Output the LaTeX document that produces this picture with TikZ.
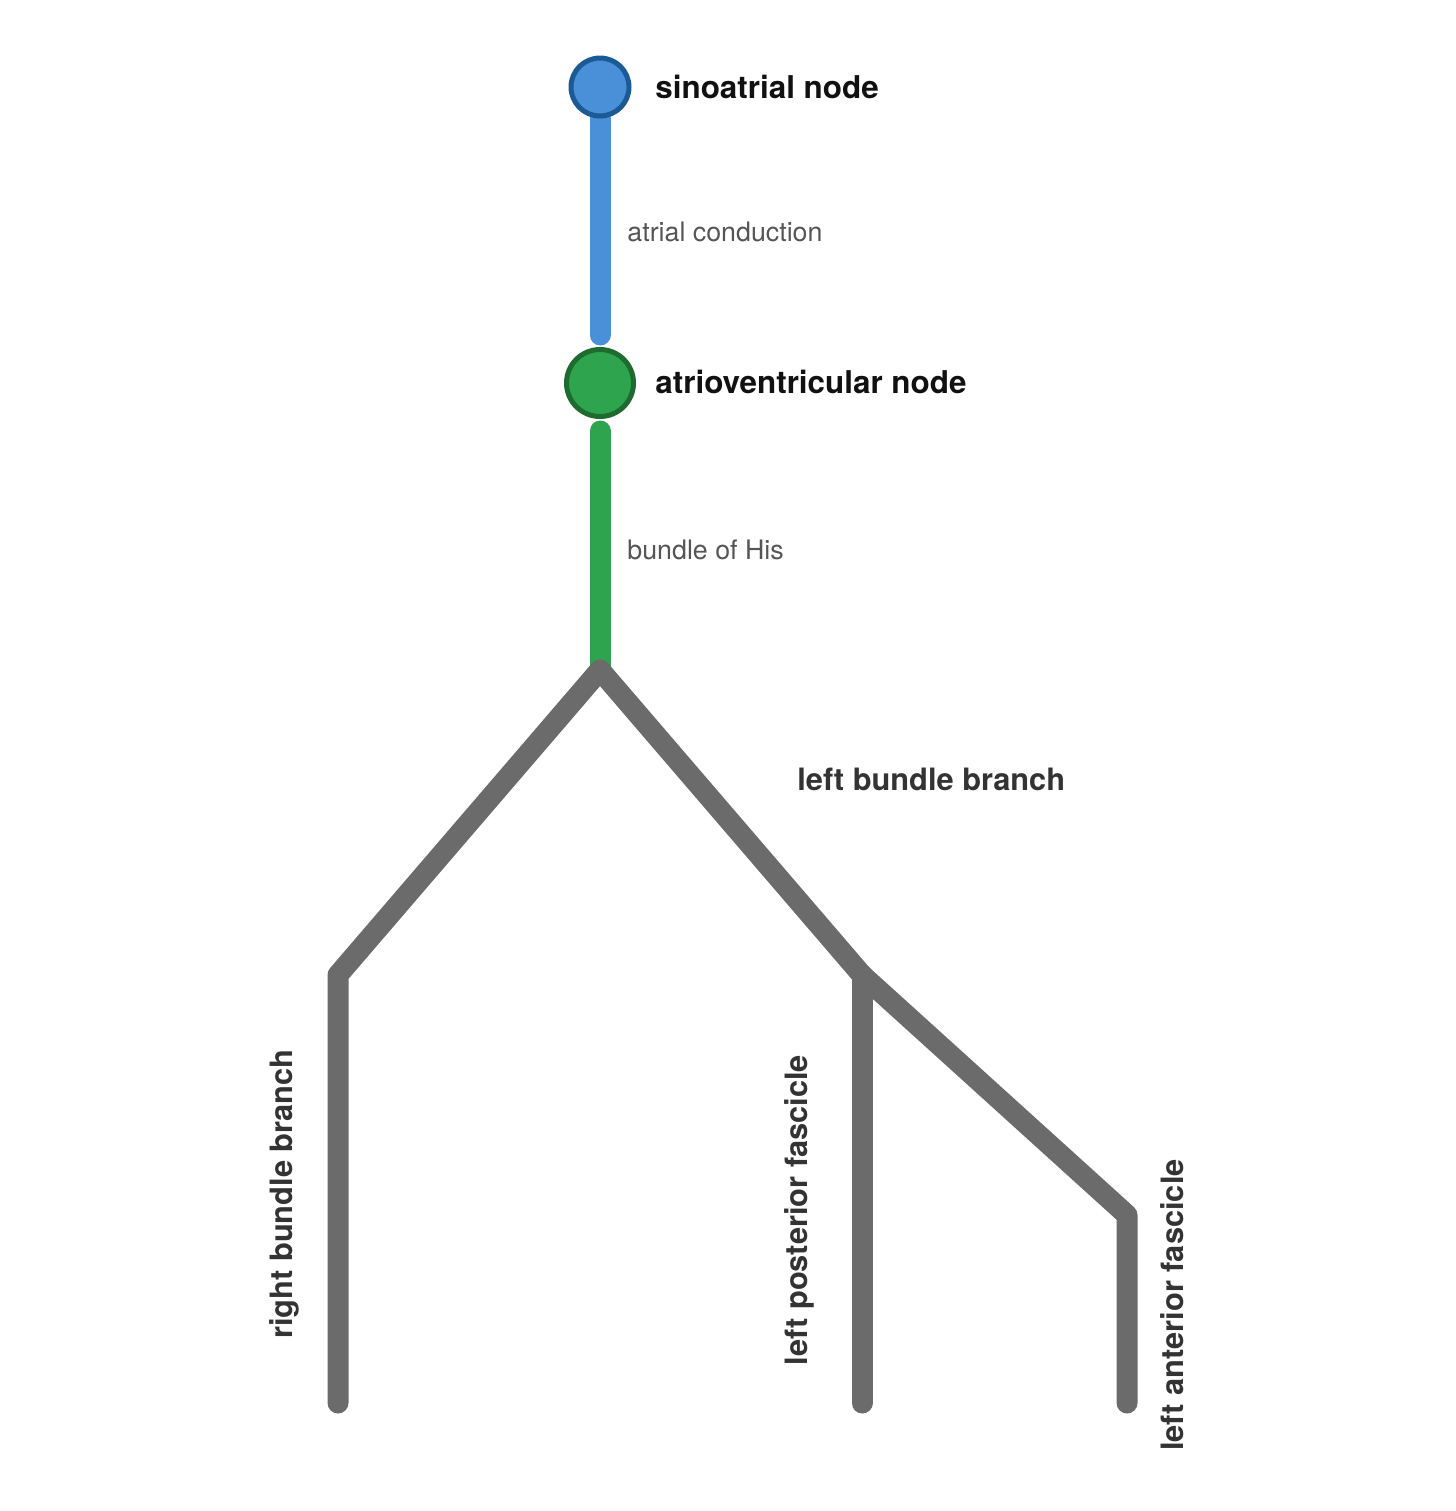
\documentclass[tikz,border=0pt]{standalone}
\usepackage{fontspec}
\setmainfont{TeX Gyre Heros}
\usetikzlibrary{backgrounds}
\definecolor{SinusBlue}{HTML}{4A90D9}
\definecolor{SinusEdge}{HTML}{1C5A96}
\definecolor{NodeGreen}{HTML}{2EA44F}
\definecolor{GreenEdge}{HTML}{1D6B2E}
\definecolor{FibreGray}{HTML}{6B6B6B}
\definecolor{TitleInk}{HTML}{111111}
\definecolor{LabelGray}{HTML}{555555}
\definecolor{BranchInk}{HTML}{333333}

\begin{document}
\begin{tikzpicture}[x=0.5pt, y=-0.5pt,
    fibre/.style={line width=10.5pt, line cap=round, line join=round},
    station/.style={circle, line width=2.5pt, inner sep=0pt},
    title/.style={anchor=west, inner sep=0pt, text=TitleInk,
                  font=\fontsize{15.7}{18}\selectfont\bfseries},
    track/.style={anchor=west, inner sep=0pt, text=LabelGray,
                  font=\fontsize{13.4}{16}\selectfont},
    branch/.style={inner sep=0pt, text=BranchInk,
                   font=\fontsize{15.4}{18}\selectfont\bfseries}]
  \useasboundingbox (0,0) rectangle (1456,1511);
  \node[station, draw=SinusEdge, fill=SinusBlue, minimum size=29pt] (sa) at (600,87) {};
  \node[station, draw=GreenEdge, fill=NodeGreen, minimum size=33.5pt] (av) at (600,383) {};
  \coordinate (his) at (600,670);
  \coordinate (rbb) at (338,975);
  \coordinate (lbb) at (862,975);
  \coordinate (laf) at (1127,1215);
  \coordinate (rend) at (338,1403);
  \coordinate (lpend) at (862,1403);
  \coordinate (laend) at (1127,1403);

  \node[title] (salabel) at (655,87) {sinoatrial node};
  \node[title] (avlabel) at (655,382) {atrioventricular node};
  \node[track] (atrlabel) at (627,232) {atrial conduction};
  \node[track] (hislabel) at (627,550) {bundle of His};
  \node[branch, anchor=west] (lbblabel) at (797,779) {left bundle branch};
  \node[branch, rotate=90] (rbblabel) at (284,1194) {right bundle branch};
  \node[branch, rotate=90] (lpflabel) at (799,1210) {left posterior fascicle};
  \node[branch, rotate=90] (laflabel) at (1172,1305) {left anterior fascicle};

  \begin{scope}[on background layer]
    \draw[fibre, SinusBlue, shorten >=6pt] (sa) -- (av);
    \draw[fibre, NodeGreen, shorten <=6pt] (av) -- (his);
    \draw[fibre, FibreGray] (his) -- (rbb) -- (rend);
    \draw[fibre, FibreGray] (lbb) -- (lpend);
    \draw[fibre, FibreGray] (his) -- (lbb) -- (laf) -- (laend);
  \end{scope}
\end{tikzpicture}
\end{document}
